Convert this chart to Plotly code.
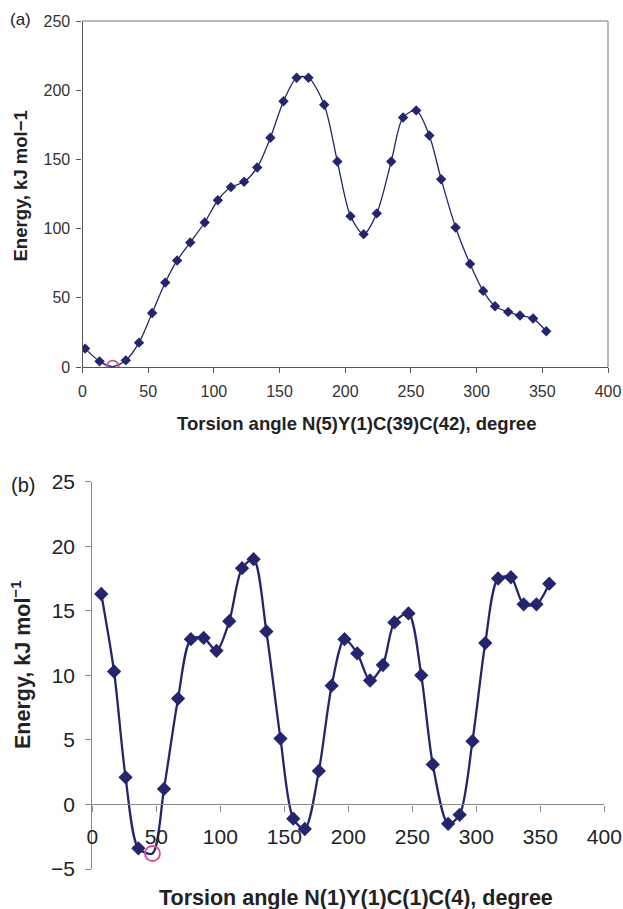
import plotly.graph_objects as go

# ---------------- data ----------------
angles_a = [2, 13, 23, 33, 43, 53, 63, 72, 82, 93, 103, 113, 123, 133, 143, 153, 163, 172,
            184, 194, 204, 214, 224, 235, 244, 254, 264, 273, 284, 295, 305, 314, 324, 333, 343, 353]
energy_a = [13.3, 4.1, 0.3, 4.8, 17.6, 39, 61, 77, 90, 104.4, 120.5, 130, 133.8, 144.2, 165.6, 192, 209, 209,
            189.5, 148.5, 109, 96, 111, 148.5, 180.3, 185.4, 167.3, 135.7, 100.8, 74.5, 55, 43.9, 39.8, 37.2, 35, 25.8]
min_idx_a = 2

angles_b = [7, 17, 26, 36, 47, 56, 67, 77, 87, 97, 107, 117, 126, 136, 147, 157, 166, 177,
            187, 197, 207, 217, 227, 236, 247, 257, 266, 278, 287, 297, 307, 317, 327, 337, 347, 357]
energy_b = [16.3, 10.3, 2.1, -3.4, -3.8, 1.2, 8.2, 12.8, 12.9, 11.9, 14.2, 18.3, 19.0, 13.4, 5.1, -1.1, -1.9, 2.6,
            9.2, 12.8, 11.7, 9.6, 10.8, 14.1, 14.8, 10.0, 3.1, -1.5, -0.8, 4.9, 12.5, 17.5, 17.6, 15.5, 15.5, 17.1]
min_idx_b = 4

x_ticks = [0, 50, 100, 150, 200, 250, 300, 350, 400]
y_ticks_a = [0, 50, 100, 150, 200, 250]
y_ticks_b = [-5, 0, 5, 10, 15, 20, 25]

title_x_a = "Torsion angle N(5)Y(1)C(39)C(42), degree"
title_x_b = "Torsion angle N(1)Y(1)C(1)C(4), degree"
title_y_a = "Energy, kJ mol−1"
title_y_b = "Energy, kJ mol<sup>−1</sup>"

# ---------------- style ----------------
W, H = 623, 909
NAVY = "#25256e"
PINK = "#cc4f9a"
FONT = "Liberation Sans, Arial, sans-serif"

def px_x(p):
    return p / W

def px_y(p):
    return 1 - p / H

dom_ax = [px_x(82.5), px_x(608)]
dom_ay = [px_y(367), px_y(21)]
dom_bx = [px_x(92.3), px_x(604.3)]
dom_by = [px_y(869), px_y(481.7)]

fig = go.Figure()

def add_series(xs, ys, mi, xa, ya, lw, ms):
    fig.add_trace(go.Scatter(x=xs, y=ys, mode="lines", line=dict(color=NAVY, width=lw, shape="spline", smoothing=0.8),
                             xaxis=xa, yaxis=ya, showlegend=False, hoverinfo="skip"))
    mx = [v for i, v in enumerate(xs) if i != mi]
    my = [v for i, v in enumerate(ys) if i != mi]
    fig.add_trace(go.Scatter(x=mx, y=my, mode="markers", marker=dict(symbol="diamond", color=NAVY, size=ms),
                             xaxis=xa, yaxis=ya, showlegend=False))
    fig.add_trace(go.Scatter(x=[xs[mi]], y=[ys[mi]], mode="markers",
                             marker=dict(symbol="circle-open", color=PINK, size=ms + 4, line=dict(width=1.8)),
                             xaxis=xa, yaxis=ya, showlegend=False))

add_series(angles_a, energy_a, min_idx_a, "x", "y", 1.3, 8)
add_series(angles_b, energy_b, min_idx_b, "x2", "y2", 2.3, 11)

# position of y=0 in panel b (axis crossing)
b_zero = dom_by[0] + (0 - y_ticks_b[0]) / (y_ticks_b[-1] - y_ticks_b[0]) * (dom_by[1] - dom_by[0])

common = dict(showgrid=False, zeroline=False, showline=True, linewidth=1.2, ticks="outside", automargin=False)

fig.update_layout(
    width=W, height=H,
    margin=dict(l=0, r=0, t=0, b=0, autoexpand=False),
    paper_bgcolor="white", plot_bgcolor="white",
    font=dict(family=FONT, color="#222"),
    xaxis=dict(domain=dom_ax, anchor="y", range=[0, 400], tickvals=x_ticks, linecolor="#555", ticklen=5,
               tickcolor="#555", ticklabelstandoff=5, tickfont=dict(size=16, color="#333"), **common),
    yaxis=dict(domain=dom_ay, anchor="x", range=[0, 250], tickvals=y_ticks_a, linecolor="#555", ticklen=5,
               tickcolor="#555", ticklabelstandoff=3, tickfont=dict(size=16, color="#333"), **common),
    xaxis2=dict(domain=dom_bx, anchor="free", position=b_zero, range=[0, 400], tickvals=x_ticks,
                linecolor="#888", ticklen=6, tickcolor="#888", ticklabelstandoff=7,
                tickfont=dict(size=21, color="#222"), **common),
    yaxis2=dict(domain=dom_by, anchor="x2", range=[-5, 25], tickvals=y_ticks_b, linecolor="#888", ticklen=6,
                tickcolor="#888", ticklabelstandoff=6, tickfont=dict(size=21, color="#222"), **common),
)

# border of panel a (top and right)
fig.add_shape(type="line", xref="x domain", yref="y domain", x0=0, x1=1, y0=1, y1=1,
              line=dict(color="#a0a0a8", width=1.5))
fig.add_shape(type="line", xref="x domain", yref="y domain", x0=1, x1=1, y0=0, y1=1,
              line=dict(color="#a0a0a8", width=1.5))

# texts
ann = [
    dict(text="(a)", x=px_x(8), y=px_y(20), xanchor="left", yanchor="middle", font=dict(size=17, color="#222")),
    dict(text="(b)", x=px_x(9), y=px_y(485), xanchor="left", yanchor="middle", font=dict(size=20, color="#222")),
    dict(text="<b>" + title_x_a + "</b>", x=px_x(356), y=px_y(423), xanchor="center", yanchor="middle",
         font=dict(size=18.5, color="#222")),
    dict(text="<b>" + title_x_b + "</b>", x=px_x(356), y=px_y(898), xanchor="center", yanchor="middle",
         font=dict(size=21.5, color="#222")),
    dict(text="<b>" + title_y_a + "</b>", x=px_x(19.5), y=px_y(186), xanchor="center", yanchor="middle",
         textangle=-90, font=dict(size=18.5, color="#222")),
    dict(text="<b>" + title_y_b + "</b>", x=px_x(21), y=px_y(665), xanchor="center", yanchor="middle",
         textangle=-90, font=dict(size=21.5, color="#222")),
]
for a in ann:
    fig.add_annotation(xref="paper", yref="paper", showarrow=False, **a)

fig.write_html("out.html", config={"displayModeBar": False},
               post_script="document.body.style.margin='0';document.body.style.overflow='hidden';")
